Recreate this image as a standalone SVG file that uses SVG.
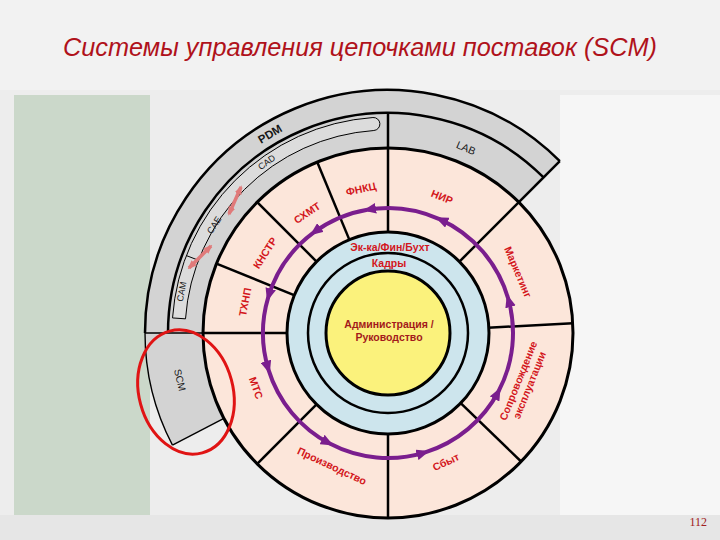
<svg xmlns="http://www.w3.org/2000/svg" width="720" height="540" viewBox="0 0 720 540">
<style>
.lbl{font-family:"Liberation Sans",Arial,sans-serif;font-weight:bold;font-size:10.5px;fill:#d3161c;text-anchor:middle}
.blk{font-family:"Liberation Sans",Arial,sans-serif;fill:#161616;text-anchor:middle}
.ln{stroke:#000;fill:none;stroke-width:2.5;stroke-linecap:butt}
.thin{stroke:#000;fill:none;stroke-width:1.4}
.flow{stroke:#7a1e8e;stroke-width:4;fill:none}
.dbl{stroke:#e07a7a;stroke-width:3.5;fill:none}
</style>
<defs>
<marker id="ah" viewBox="0 0 12 10" refX="8" refY="5" markerWidth="13" markerHeight="11" markerUnits="userSpaceOnUse" orient="auto">
<path d="M0,0 L12,5 L0,10 z" fill="#7a1e8e"/>
</marker>
<marker id="rh" viewBox="0 0 10 8" refX="8" refY="4" markerWidth="9" markerHeight="8" markerUnits="userSpaceOnUse" orient="auto-start-reverse">
<path d="M0,0 L10,4 L0,8 z" fill="#e07a7a"/>
</marker>
</defs>

<g id="background">
<rect x="0" y="0" width="720" height="540" fill="#ededed"/>
<rect x="0" y="0" width="720" height="90" fill="#f2f2f2"/>
<rect x="14" y="95" width="136" height="420" fill="#cbd8ca"/>
<rect x="560" y="95" width="160" height="420" fill="#f6f6f6"/>
<rect x="0" y="515" width="720" height="25" fill="#e6e6e6"/>
</g>

<g id="title">
<text x="360" y="56" font-family="Liberation Sans, Arial, sans-serif" font-style="italic" font-size="26" fill="#b0121b" text-anchor="middle" textLength="594" lengthAdjust="spacingAndGlyphs">Системы управления цепочками поставок (SCM)</text>
</g>

<g id="outer-band">
<path d="M172.46,445.19 A243,243 0 0 1 559.83,161.17 L518.81,202.19 A185,185 0 0 0 223.90,418.41 Z" fill="#d3d3d3"/>
<path class="thin" d="M172.46,445.19 A243,243 0 0 1 145,333"/>
<path class="ln" d="M145,333 A243,243 0 0 1 559.83,161.17"/>
<path class="ln" stroke-width="2" d="M168,333 A220,220 0 0 1 543.56,177.44"/>
<line class="thin" x1="145" y1="333" x2="203" y2="333"/>
<line class="thin" x1="172.46" y1="445.19" x2="223.90" y2="418.41"/>
</g>

<g id="node-pdm">
<text class="blk" font-size="11.5" font-weight="bold" transform="translate(270,134) rotate(-31)" dy="0.35em">PDM</text>
</g>
<g id="node-lab">
<text class="blk" font-size="10.5" transform="translate(466,148) rotate(23)" dy="0.35em">LAB</text>
</g>

<g id="node-cax-bar">
<path d="M172.53,317.93 A216,216 0 0 1 372.93,117.53 A6.5,6.5 0 0 1 373.84,130.50 A203,203 0 0 0 185.50,318.84 Z" fill="#dcdcdc" stroke="#000" stroke-width="1"/>
<line x1="198.48" y1="260.25" x2="186.35" y2="255.59" stroke="#000" stroke-width="1"/>
</g>
<g id="node-cad">
<text class="blk" font-size="9" transform="translate(266.6,162.2) rotate(-35)" dy="0.35em">CAD</text>
</g>
<g id="node-cae">
<text class="blk" font-size="9" transform="translate(214,225) rotate(-58)" dy="0.35em">CAE</text>
</g>
<g id="node-cam">
<text class="blk" font-size="9" transform="translate(181.5,291.5) rotate(-79)" dy="0.35em">CAM</text>
</g>

<g id="node-scm">
<text class="blk" font-size="10" transform="translate(180,380) rotate(77)" dy="0.35em">SCM</text>
</g>

<g id="pink-ring">
<circle cx="388" cy="333" r="185" fill="#fce6da" stroke="#000" stroke-width="3"/>
<line class="ln" x1="388" y1="233" x2="388" y2="113"/>
<line class="ln" x1="458.71" y1="262.29" x2="559.83" y2="161.17"/>
<line class="ln" x1="487.86" y1="327.77" x2="572.75" y2="323.32"/>
<line class="ln" x1="459.93" y1="402.47" x2="521.08" y2="461.51"/>
<line class="ln" x1="388" y1="433" x2="388" y2="518"/>
<line class="ln" x1="317.29" y1="403.71" x2="257.18" y2="463.82"/>
<line class="ln" x1="288" y1="333" x2="203" y2="333"/>
<line class="ln" x1="295.28" y1="295.54" x2="216.47" y2="263.70"/>
<line class="ln" x1="317.29" y1="262.29" x2="257.18" y2="202.18"/>
<line class="ln" x1="349.73" y1="240.61" x2="317.20" y2="162.08"/>
</g>

<g id="connectors">
<path class="flow" marker-end="url(#ah)" d="M508.16,298.54 A125,125 0 0 0 439.44,219.07"/>
<path class="flow" marker-end="url(#ah)" d="M439.44,219.07 A125,125 0 0 0 367.37,209.71"/>
<path class="flow" marker-end="url(#ah)" d="M367.37,209.71 A125,125 0 0 0 313.47,232.65"/>
<path class="flow" marker-end="url(#ah)" d="M313.47,232.65 A125,125 0 0 0 268.27,297.08"/>
<path class="flow" marker-end="url(#ah)" d="M268.27,297.08 A125,125 0 0 0 268.46,369.55"/>
<path class="flow" marker-end="url(#ah)" d="M268.46,369.55 A125,125 0 0 0 329.70,443.57"/>
<path class="flow" marker-end="url(#ah)" d="M329.70,443.57 A125,125 0 0 0 425.17,452.35"/>
<path class="flow" marker-end="url(#ah)" d="M425.17,452.35 A125,125 0 0 0 498.57,391.30"/>
<path class="flow" marker-end="url(#ah)" d="M498.57,391.30 A125,125 0 0 0 508.16,298.54"/>
<line class="dbl" marker-start="url(#rh)" marker-end="url(#rh)" x1="189" y1="268" x2="211" y2="246"/>
<line class="dbl" marker-start="url(#rh)" marker-end="url(#rh)" x1="229" y1="214" x2="241" y2="187"/>
</g>

<g id="node-nir"><text class="lbl" transform="translate(442,197) rotate(22)" dy="0.35em">НИР</text></g>
<g id="node-marketing"><text class="lbl" transform="translate(518,272) rotate(67)" dy="0.35em">Маркетинг</text></g>
<g id="node-soprovozhdenie">
<text class="lbl" transform="translate(524,383) rotate(-68)"><tspan x="0" y="-2.5">Сопровождение</tspan><tspan x="0" y="9.5">эксплуатации</tspan></text>
</g>
<g id="node-sbyt"><text class="lbl" transform="translate(446,462) rotate(-25)" dy="0.35em">Сбыт</text></g>
<g id="node-proizvodstvo"><text class="lbl" transform="translate(332,466) rotate(25)" dy="0.35em">Производство</text></g>
<g id="node-mts"><text class="lbl" transform="translate(256,388) rotate(70)" dy="0.35em">МТС</text></g>
<g id="node-thnp"><text class="lbl" transform="translate(245,302) rotate(-79)" dy="0.35em">ТХНП</text></g>
<g id="node-knstr"><text class="lbl" transform="translate(265,253) rotate(-57)" dy="0.35em">КНСТР</text></g>
<g id="node-shmt"><text class="lbl" transform="translate(307,213) rotate(-34)" dy="0.35em">СХМТ</text></g>
<g id="node-fnkc"><text class="lbl" transform="translate(361,189) rotate(-12)" dy="0.35em">ФНКЦ</text></g>

<g id="node-econ">
<circle cx="388" cy="333" r="101" fill="#cde5ed" stroke="#000" stroke-width="3"/>
<text class="lbl" x="390" y="247" dy="0.35em">Эк-ка/Фин/Бухт</text>
</g>
<g id="node-kadry">
<circle cx="388" cy="333" r="80" fill="#cde5ed" stroke="#000" stroke-width="2.5"/>
<text class="lbl" x="389" y="263" dy="0.35em">Кадры</text>
</g>
<g id="node-admin">
<circle cx="388" cy="333" r="62" fill="#fbf27c" stroke="#000" stroke-width="3"/>
<text class="lbl" style="fill:#a3191b;font-size:10.5px" x="389" y="328">Администрация /</text>
<text class="lbl" style="fill:#a3191b;font-size:10.5px" x="389" y="341">Руководство</text>
</g>

<g id="highlight">
<ellipse cx="186" cy="392" rx="47" ry="63" transform="rotate(-15 186 392)" fill="none" stroke="#e01414" stroke-width="3"/>
</g>

<g id="page-number">
<text x="707" y="526" font-family="Liberation Serif, serif" font-size="12" fill="#a02020" text-anchor="end">112</text>
</g>
</svg>
